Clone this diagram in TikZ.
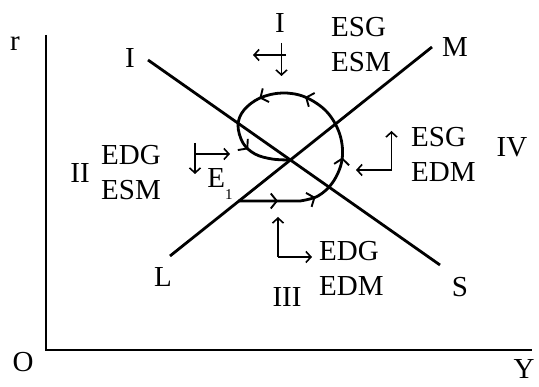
\documentclass[tikz,border=0pt]{standalone}
\usepackage{fontspec}
\setmainfont{Liberation Serif}
\usetikzlibrary{arrows.meta,decorations.markings}
\begin{document}
\begin{tikzpicture}[x=1pt,y=-1pt,
  lbl/.style={inner sep=0pt,font=\fontsize{29}{34}\selectfont},
  curveline/.style={line width=2.8pt,line join=round},
  axisline/.style={line width=2.2pt},
  sym/.style={line width=1.6pt,-{Straight Barb[length=5pt,width=11pt,line width=1.6pt]}},
  chev/.tip={Straight Barb[length=6pt,width=15pt,line width=1.9pt]}]
\useasboundingbox (0,0) rectangle (539,387);
% axes
\coordinate (ytop) at (45.7,35);
\coordinate (orig) at (45.7,350);
\coordinate (xend) at (532,350);
\draw[axisline] (ytop) -- (orig) -- (xend);
\node[lbl] (r) at (15,44) {r};
\node[lbl] (O) at (23,362) {O};
\node[lbl] (Y) at (524,369) {Y};
% IS and LM
\coordinate (isA) at (148,60);
\coordinate (isB) at (440,265);
\coordinate (lmA) at (170,256);
\coordinate (lmB) at (432,47);
\draw[curveline] (isA) -- (isB);
\draw[curveline] (lmA) -- (lmB);
\node[lbl] (Il) at (130,58) {I};
\node[lbl] (Sl) at (460,287) {S};
\node[lbl] (Ll) at (163,277) {L};
\node[lbl] (Ml) at (455,47) {M};
% spiral
\draw[curveline, postaction={decorate}, decoration={markings,
  mark=at position 40pt with {\arrow{chev}},
  mark=at position 78pt with {\arrow{chev}},
  mark=at position 128pt with {\arrow{chev}},
  mark=at position 204pt with {\arrow{chev}},
  mark=at position 251pt with {\arrow{chev}},
  mark=at position 314pt with {\arrow{chev}}}]
  (238,201) -- plot[smooth,tension=0.6] coordinates {(300,201) (318,196) (333,182) (342,160) (340,135) (327,112) (305,97) (282,93) (260,98) (244,110) (238,125) (243,143) (255,154) (272,159) (290,160)};
% region labels
\node[lbl] (q1) at (280,23) {I};
\node[lbl,anchor=west] (q1a) at (331,27) {ESG};
\node[lbl,anchor=west] (q1b) at (331,62) {ESM};
\node[lbl] (q2) at (80,173) {II};
\node[lbl,anchor=west] (q2a) at (101,155) {EDG};
\node[lbl,anchor=west] (q2b) at (101,190) {ESM};
\node[lbl] (q3) at (287,297) {III};
\node[lbl,anchor=west] (q3a) at (319,251) {EDG};
\node[lbl,anchor=west] (q3b) at (319,286) {EDM};
\node[lbl] (q4) at (512,147) {IV};
\node[lbl,anchor=west] (q4a) at (411,137) {ESG};
\node[lbl,anchor=west] (q4b) at (411,172) {EDM};
\node[lbl] (E1) at (220,184) {E\raisebox{-0.4em}{\fontsize{15}{18}\selectfont 1}};
% direction arrows
\coordinate (t1) at (286,55); \coordinate (t2) at (253,55);
\coordinate (t3) at (281.5,43); \coordinate (t4) at (281.5,76);
\draw[sym] (t1) -- (t2);
\draw[sym] (t3) -- (t4);
\coordinate (l1) at (195,143); \coordinate (l2) at (195,174);
\coordinate (l3) at (195,154); \coordinate (l4) at (230,154);
\draw[sym] (l1) -- (l2);
\draw[sym] (l3) -- (l4);
\coordinate (r1) at (391.5,170); \coordinate (r2) at (391.5,131);
\coordinate (r3) at (356,170);
\draw[sym] (r1) -- (r2);
\draw[sym] (r1) -- (r3);
\coordinate (b1) at (278,257); \coordinate (b2) at (278,217);
\coordinate (b3) at (312,257);
\draw[sym] (b1) -- (b2);
\draw[sym] (b1) -- (b3);
\end{tikzpicture}
\end{document}
